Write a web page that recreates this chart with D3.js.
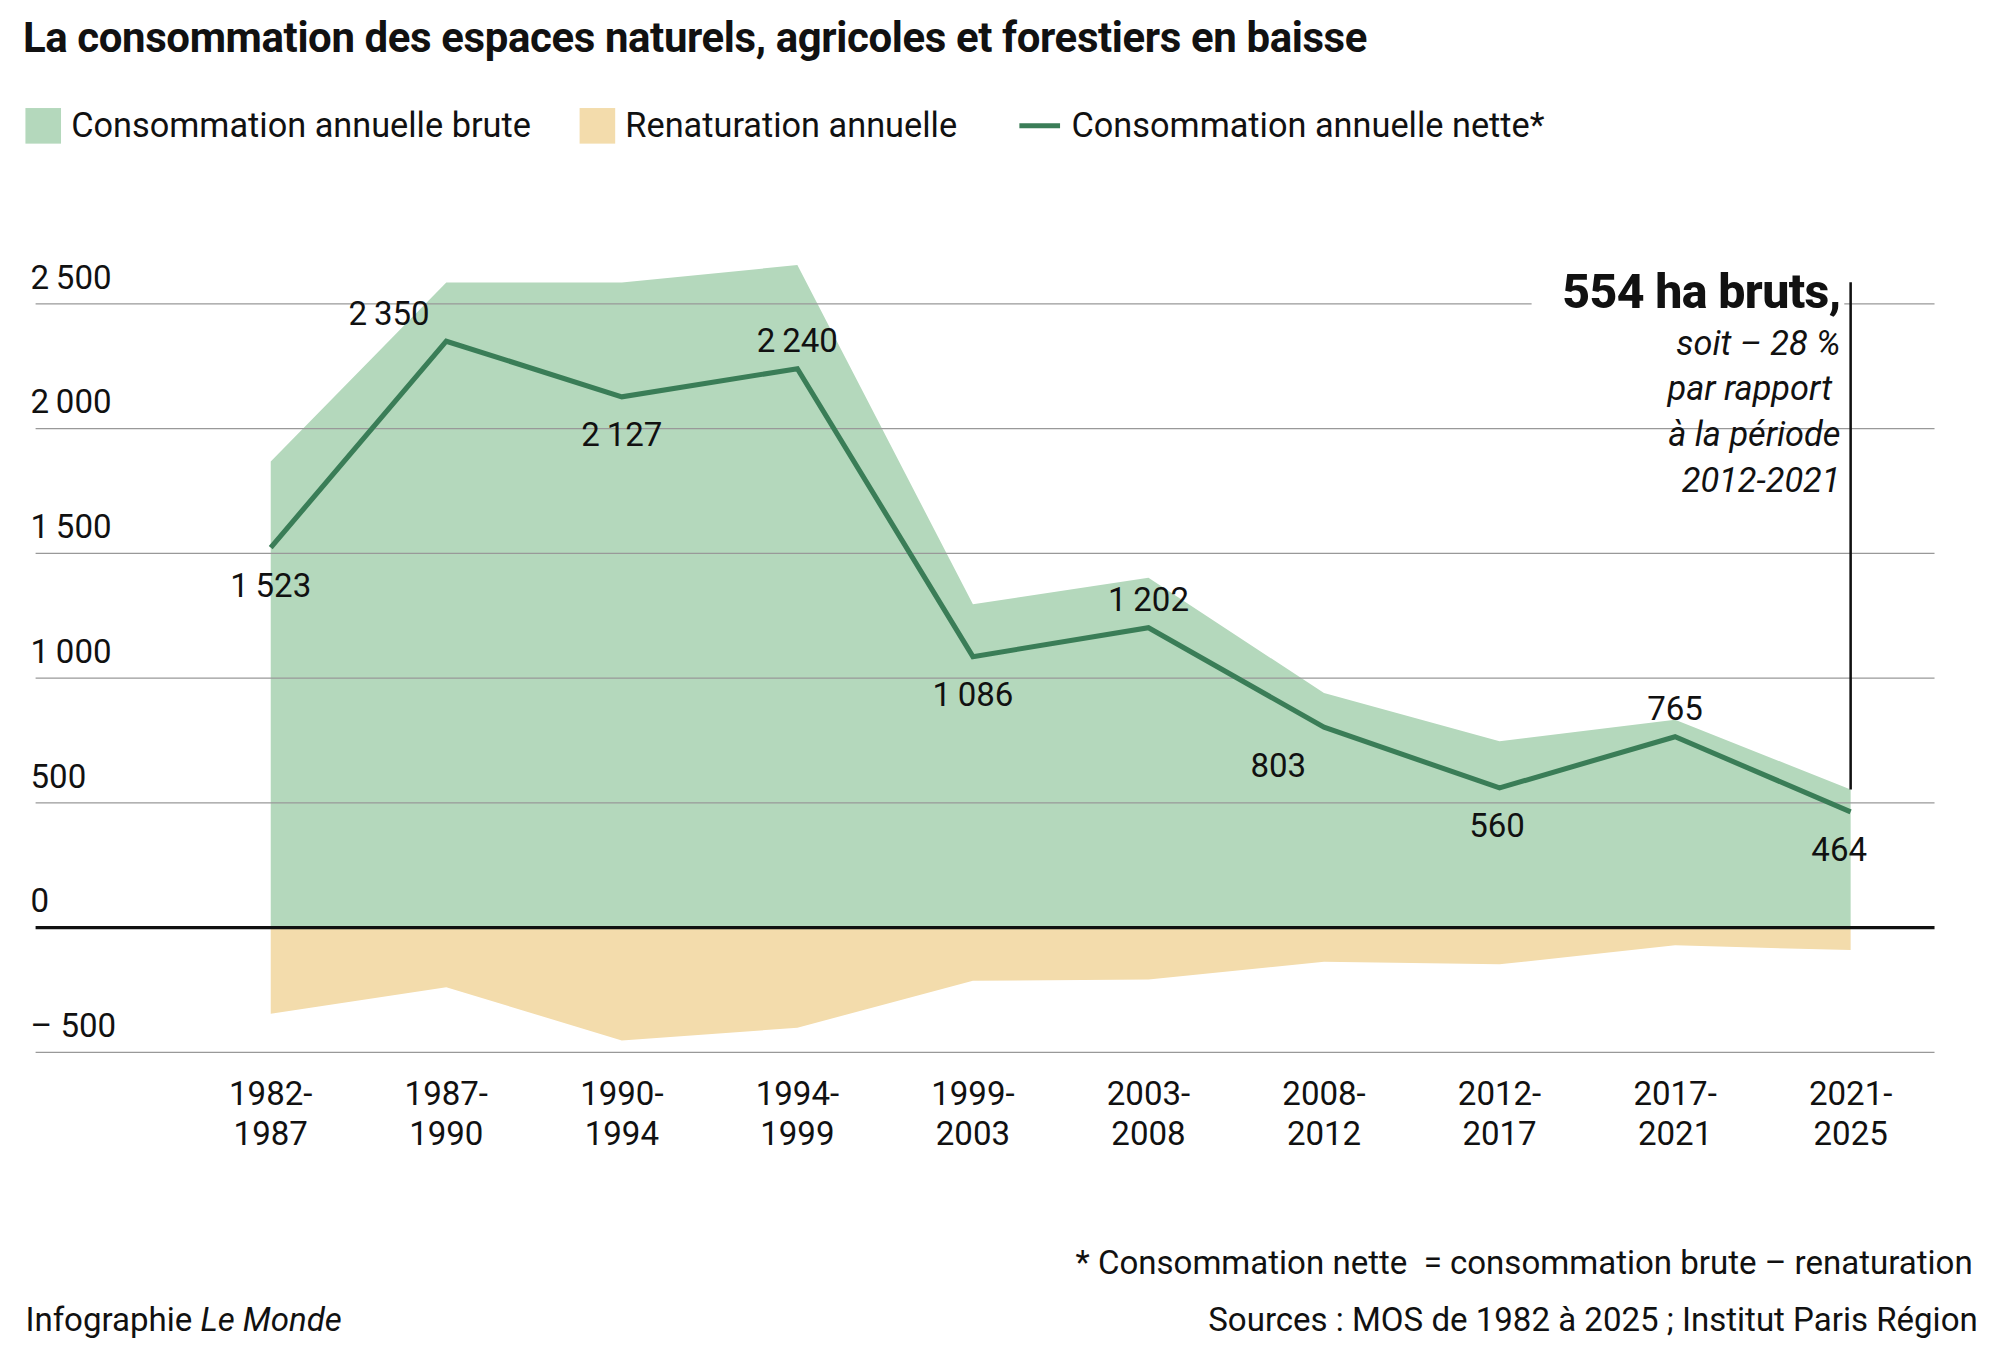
<!DOCTYPE html>
<html><head><meta charset="utf-8">
<script src="https://cdn.jsdelivr.net/npm/d3@7"></script>
<style>
body{margin:0;background:#fff;}
text{font-family:Roboto,"Liberation Sans",sans-serif;fill:#111;}
</style></head>
<body><div id="chart"></div>
<script>
const periods = ["1982-1987","1987-1990","1990-1994","1994-1999","1999-2003","2003-2008","2008-2012","2012-2017","2017-2021","2021-2025"];
const brute = [1868, 2585, 2585, 2655, 1296, 1402, 940, 747, 833, 554];
const renaturation = [-345, -239, -452, -401, -213, -208, -137, -147, -71, -90];
const nette = [1523, 2350, 2127, 2240, 1086, 1202, 803, 560, 765, 464];
const labelSide = ["below","above","below","above","below","above","below","below","above","below"];
const labelShift = [0, -45, 0, 0, 0, 0, -36, -2, 0, -9];
const yTicks = [-500, 0, 500, 1000, 1500, 2000, 2500];

const W = 1568, H = 1075.5;
const svg = d3.select("#chart").append("svg")
  .attr("width", 1993).attr("height", 1367)
  .attr("viewBox", `0 0 ${W} ${H}`);

const x = d3.scalePoint().domain(periods).range([213, 1456]);
const y = d3.scaleLinear().domain([-500, 2500]).range([828, 239]);
const fmt = v => v < 0 ? "– " + Math.abs(v) : d3.format(",")(v).replace(",", "\u2009");

// Title & legend
svg.append("text").attr("x", 18).attr("y", 41).attr("font-size", 33).attr("font-weight", 700)
  .attr("letter-spacing", -0.3)
  .text("La consommation des espaces naturels, agricoles et forestiers en baisse");
const leg = svg.append("g").attr("font-size", 27);
leg.append("rect").attr("x", 20).attr("y", 85).attr("width", 28).attr("height", 28).attr("fill", "#b4d8bc");
leg.append("text").attr("x", 56).attr("y", 108).text("Consommation annuelle brute");
leg.append("rect").attr("x", 456).attr("y", 85).attr("width", 28).attr("height", 28).attr("fill", "#f3dcac");
leg.append("text").attr("x", 492).attr("y", 108).text("Renaturation annuelle");
leg.append("line").attr("x1", 802).attr("x2", 834).attr("y1", 99).attr("y2", 99).attr("stroke", "#3a7d57").attr("stroke-width", 4);
leg.append("text").attr("x", 843).attr("y", 108).text("Consommation annuelle nette*");

// Areas
const idx = d3.range(periods.length);
svg.append("path").attr("fill", "#b4d8bc")
  .attr("d", d3.area().x(i => x(periods[i])).y0(y(0)).y1(i => y(brute[i]))(idx));
svg.append("path").attr("fill", "#f3dcac")
  .attr("d", d3.area().x(i => x(periods[i])).y0(y(0)).y1(i => y(renaturation[i]))(idx));

// Grid & y labels
const grid = svg.append("g");
yTicks.filter(t => t !== 0).forEach(t => {
  grid.append("line").attr("x1", 28).attr("x2", 1522).attr("y1", y(t)).attr("y2", y(t))
    .attr("stroke", "#999").attr("stroke-width", 1);
});
yTicks.forEach(t => {
  grid.append("text").attr("x", 24).attr("y", y(t) - 12).attr("font-size", 26).text(fmt(t));
});
svg.append("line").attr("x1", 28).attr("x2", 1522).attr("y1", y(0)).attr("y2", y(0))
  .attr("stroke", "#111").attr("stroke-width", 2.5);

// Net line
svg.append("path").attr("fill", "none").attr("stroke", "#3a7d57").attr("stroke-width", 4)
  .attr("d", d3.line().x(i => x(periods[i])).y(i => y(nette[i]))(idx));
svg.append("g").attr("font-size", 26).attr("text-anchor", "middle")
  .selectAll("text").data(idx).join("text")
  .attr("x", i => x(periods[i]) + labelShift[i])
  .attr("y", i => y(nette[i]) + (labelSide[i] === "above" ? -13 : 39))
  .text(i => fmt(nette[i]));

// X labels
const xl = svg.append("g").attr("font-size", 26).attr("text-anchor", "middle")
  .selectAll("text").data(periods).join("text")
  .attr("transform", d => `translate(${x(d)},869)`);
xl.append("tspan").attr("x", 0).text(d => d.split("-")[0] + "-");
xl.append("tspan").attr("x", 0).attr("dy", 32).text(d => d.split("-")[1]);

// Annotation
svg.append("line").attr("x1", x(periods[9])).attr("x2", x(periods[9])).attr("y1", 222).attr("y2", y(brute[9]))
  .attr("stroke", "#111").attr("stroke-width", 2);
svg.append("rect").attr("x", 1205).attr("y", 210).attr("width", 246).attr("height", 40).attr("fill", "#fff");
svg.append("text").attr("x", 1448).attr("y", 242).attr("text-anchor", "end")
  .attr("font-size", 38).attr("font-weight", 800).attr("letter-spacing", -0.5).text("554 ha bruts,");
const ann = svg.append("text").attr("text-anchor", "end").attr("font-size", 27).attr("font-style", "italic");
["soit – 28 %", "par rapport\u00a0", "à la période", "2012-2021"].forEach((s, i) => {
  ann.append("tspan").attr("x", 1448).attr("y", 279 + i * 36).text(s);
});

// Footer
svg.append("text").attr("x", 1552).attr("y", 1002).attr("text-anchor", "end").attr("font-size", 26)
  .attr("xml:space", "preserve")
  .text("* Consommation nette  = consommation brute – renaturation");
svg.append("text").attr("x", 1556).attr("y", 1047).attr("text-anchor", "end").attr("font-size", 26)
  .text("Sources : MOS de 1982 à 2025 ; Institut Paris Région");
const cr = svg.append("text").attr("x", 20).attr("y", 1047).attr("font-size", 26);
cr.append("tspan").text("Infographie ");
cr.append("tspan").attr("font-style", "italic").text("Le Monde");
</script></body></html>
